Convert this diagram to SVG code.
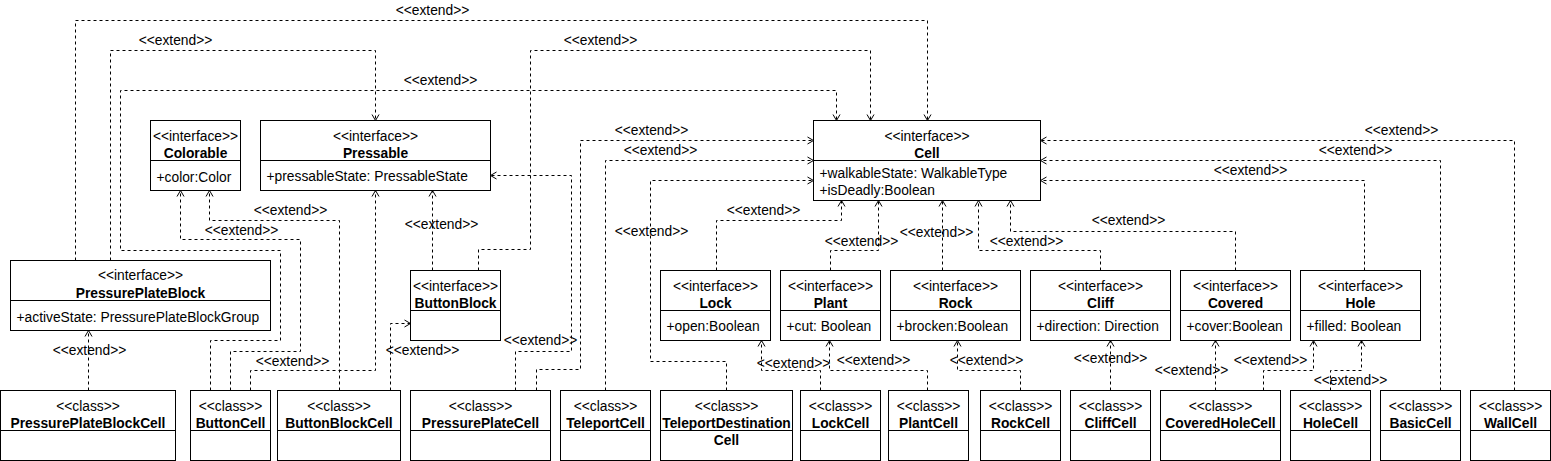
<svg xmlns="http://www.w3.org/2000/svg" width="1551" height="461" viewBox="0 0 1551 461">
<style>
.box{fill:#fff;stroke:#000;stroke-width:1}
.ln{fill:none;stroke:#000;stroke-width:1}
.t{font-family:"Liberation Sans",Arial,Helvetica,sans-serif;font-size:13.8px;fill:#000}
.m{text-anchor:middle}
.b{font-weight:bold}
.e{fill:none;stroke:#000;stroke-width:1;stroke-dasharray:3 3}
</style>
<defs>
<marker id="open" viewBox="-8 -5 9 10" refX="0" refY="0" markerWidth="9" markerHeight="10" markerUnits="userSpaceOnUse" orient="auto">
<path d="M-6,-3.5 L0,0 L-6,3.5" fill="none" stroke="#000" stroke-width="1" stroke-dasharray="none"/>
</marker>
</defs>
<rect width="1551" height="461" fill="#fff"/>
<g transform="translate(0.5,0.5)">
<g id="connectors">
<path class="e" marker-end="url(#open)" d="M75,260 V20 H927 V120"/>
<path class="e" marker-end="url(#open)" d="M110,260 V50 H375 V120"/>
<path class="e" marker-end="url(#open)" d="M210,390 V340 H280 V250 H120 V90 H836 V120"/>
<path class="e" marker-end="url(#open)" d="M478,270 V249 H530 V50 H870 V120"/>
<path class="e" marker-end="url(#open)" d="M536,390 V369 H580 V140 H813"/>
<path class="e" marker-end="url(#open)" d="M605,390 V160 H813"/>
<path class="e" marker-end="url(#open)" d="M726,390 V361 H650 V180 H813"/>
<path class="e" marker-end="url(#open)" d="M515,390 V351 H571 V175 H490"/>
<path class="e" marker-end="url(#open)" d="M390,390 V323 H410"/>
<path class="e" marker-end="url(#open)" d="M250,390 V370 H375 V190"/>
<path class="e" marker-end="url(#open)" d="M230,390 V351 H300 V239 H180 V190"/>
<path class="e" marker-end="url(#open)" d="M339,390 V220 H209 V190"/>
<path class="e" marker-end="url(#open)" d="M432,270 V190"/>
<path class="e" marker-end="url(#open)" d="M88,390 V330"/>
<path class="e" marker-end="url(#open)" d="M716,270 V220 H841 V200"/>
<path class="e" marker-end="url(#open)" d="M830,270 V250 H878 V200"/>
<path class="e" marker-end="url(#open)" d="M942,270 V200"/>
<path class="e" marker-end="url(#open)" d="M1100,270 V250 H978 V200"/>
<path class="e" marker-end="url(#open)" d="M1235,270 V231 H1010 V200"/>
<path class="e" marker-end="url(#open)" d="M1364,270 V180 H1040"/>
<path class="e" marker-end="url(#open)" d="M1440,390 V160 H1040"/>
<path class="e" marker-end="url(#open)" d="M1514,390 V140 H1040"/>
<path class="e" marker-end="url(#open)" d="M820,390 V370 H761 V340"/>
<path class="e" marker-end="url(#open)" d="M927,390 V370 H829 V340"/>
<path class="e" marker-end="url(#open)" d="M1020,390 V370 H957 V340"/>
<path class="e" marker-end="url(#open)" d="M1110,390 V340"/>
<path class="e" marker-end="url(#open)" d="M1215,390 V340"/>
<path class="e" marker-end="url(#open)" d="M1263,390 V370 H1313 V340"/>
<path class="e" marker-end="url(#open)" d="M1330,390 V370 H1361 V340"/>
<g class="t m">
<text x="432" y="14">&lt;&lt;extend&gt;&gt;</text>
<text x="175" y="44">&lt;&lt;extend&gt;&gt;</text>
<text x="440" y="84">&lt;&lt;extend&gt;&gt;</text>
<text x="600" y="44">&lt;&lt;extend&gt;&gt;</text>
<text x="651" y="134">&lt;&lt;extend&gt;&gt;</text>
<text x="660" y="154">&lt;&lt;extend&gt;&gt;</text>
<text x="651" y="235">&lt;&lt;extend&gt;&gt;</text>
<text x="540" y="344">&lt;&lt;extend&gt;&gt;</text>
<text x="422" y="354">&lt;&lt;extend&gt;&gt;</text>
<text x="292" y="365">&lt;&lt;extend&gt;&gt;</text>
<text x="241" y="234">&lt;&lt;extend&gt;&gt;</text>
<text x="290" y="214">&lt;&lt;extend&gt;&gt;</text>
<text x="441" y="228">&lt;&lt;extend&gt;&gt;</text>
<text x="89" y="354">&lt;&lt;extend&gt;&gt;</text>
<text x="763" y="214">&lt;&lt;extend&gt;&gt;</text>
<text x="861" y="245">&lt;&lt;extend&gt;&gt;</text>
<text x="936" y="236">&lt;&lt;extend&gt;&gt;</text>
<text x="1026" y="245">&lt;&lt;extend&gt;&gt;</text>
<text x="1128" y="224">&lt;&lt;extend&gt;&gt;</text>
<text x="1250" y="174">&lt;&lt;extend&gt;&gt;</text>
<text x="1355" y="154">&lt;&lt;extend&gt;&gt;</text>
<text x="1401" y="134">&lt;&lt;extend&gt;&gt;</text>
<text x="793" y="367">&lt;&lt;extend&gt;&gt;</text>
<text x="873" y="364">&lt;&lt;extend&gt;&gt;</text>
<text x="986" y="364">&lt;&lt;extend&gt;&gt;</text>
<text x="1110" y="362">&lt;&lt;extend&gt;&gt;</text>
<text x="1191" y="374">&lt;&lt;extend&gt;&gt;</text>
<text x="1270" y="364">&lt;&lt;extend&gt;&gt;</text>
<text x="1350" y="384">&lt;&lt;extend&gt;&gt;</text>
</g>
</g>

<g id="Colorable">
<rect class="box" x="150" y="120" width="90" height="70"/>
<line class="ln" x1="150" y1="160" x2="240" y2="160"/>
<text class="t m" x="195" y="140">&lt;&lt;interface&gt;&gt;</text>
<text class="t m b" x="195" y="157">Colorable</text>
<text class="t" x="156" y="181">+color:Color</text>
</g>
<g id="Pressable">
<rect class="box" x="260" y="120" width="230" height="70"/>
<line class="ln" x1="260" y1="160" x2="490" y2="160"/>
<text class="t m" x="375" y="140">&lt;&lt;interface&gt;&gt;</text>
<text class="t m b" x="375" y="157">Pressable</text>
<text class="t" x="266" y="180">+pressableState: PressableState</text>
</g>
<g id="Cell">
<rect class="box" x="813" y="120" width="227" height="80"/>
<line class="ln" x1="813" y1="160" x2="1040" y2="160"/>
<text class="t m" x="926.5" y="140">&lt;&lt;interface&gt;&gt;</text>
<text class="t m b" x="926.5" y="157">Cell</text>
<text class="t" x="819" y="177">+walkableState: WalkableType</text>
<text class="t" x="819" y="194">+isDeadly:Boolean</text>
</g>
<g id="PressurePlateBlock">
<rect class="box" x="10" y="260" width="260" height="70"/>
<line class="ln" x1="10" y1="300" x2="270" y2="300"/>
<text class="t m" x="140" y="279">&lt;&lt;interface&gt;&gt;</text>
<text class="t m b" x="140" y="297">PressurePlateBlock</text>
<text class="t" x="16" y="321">+activeState: PressurePlateBlockGroup</text>
</g>
<g id="ButtonBlock">
<rect class="box" x="410" y="270" width="90" height="70"/>
<line class="ln" x1="410" y1="310" x2="500" y2="310"/>
<text class="t m" x="455" y="290">&lt;&lt;interface&gt;&gt;</text>
<text class="t m b" x="455" y="307">ButtonBlock</text>
</g>
<g id="Lock">
<rect class="box" x="660" y="270" width="110" height="70"/>
<line class="ln" x1="660" y1="310" x2="770" y2="310"/>
<text class="t m" x="715" y="290">&lt;&lt;interface&gt;&gt;</text>
<text class="t m b" x="715" y="307">Lock</text>
<text class="t" x="666" y="330">+open:Boolean</text>
</g>
<g id="Plant">
<rect class="box" x="780" y="270" width="100" height="70"/>
<line class="ln" x1="780" y1="310" x2="880" y2="310"/>
<text class="t m" x="830" y="290">&lt;&lt;interface&gt;&gt;</text>
<text class="t m b" x="830" y="307">Plant</text>
<text class="t" x="786" y="330">+cut: Boolean</text>
</g>
<g id="Rock">
<rect class="box" x="890" y="270" width="130" height="70"/>
<line class="ln" x1="890" y1="310" x2="1020" y2="310"/>
<text class="t m" x="955" y="290">&lt;&lt;interface&gt;&gt;</text>
<text class="t m b" x="955" y="307">Rock</text>
<text class="t" x="896" y="330">+brocken:Boolean</text>
</g>
<g id="Cliff">
<rect class="box" x="1030" y="270" width="140" height="70"/>
<line class="ln" x1="1030" y1="310" x2="1170" y2="310"/>
<text class="t m" x="1100" y="290">&lt;&lt;interface&gt;&gt;</text>
<text class="t m b" x="1100" y="307">Cliff</text>
<text class="t" x="1036" y="330">+direction: Direction</text>
</g>
<g id="Covered">
<rect class="box" x="1180" y="270" width="110" height="70"/>
<line class="ln" x1="1180" y1="310" x2="1290" y2="310"/>
<text class="t m" x="1235" y="290">&lt;&lt;interface&gt;&gt;</text>
<text class="t m b" x="1235" y="307">Covered</text>
<text class="t" x="1186" y="330">+cover:Boolean</text>
</g>
<g id="Hole">
<rect class="box" x="1300" y="270" width="120" height="70"/>
<line class="ln" x1="1300" y1="310" x2="1420" y2="310"/>
<text class="t m" x="1360" y="290">&lt;&lt;interface&gt;&gt;</text>
<text class="t m b" x="1360" y="307">Hole</text>
<text class="t" x="1306" y="330">+filled: Boolean</text>
</g>

<g id="PressurePlateBlockCell">
<rect class="box" x="0" y="390" width="175" height="70"/>
<line class="ln" x1="0" y1="430" x2="175" y2="430"/>
<text class="t m" x="87.5" y="410">&lt;&lt;class&gt;&gt;</text>
<text class="t m b" x="87.5" y="427">PressurePlateBlockCell</text>
</g>
<g id="ButtonCell">
<rect class="box" x="190" y="390" width="80" height="70"/>
<line class="ln" x1="190" y1="430" x2="270" y2="430"/>
<text class="t m" x="230" y="410">&lt;&lt;class&gt;&gt;</text>
<text class="t m b" x="230" y="427">ButtonCell</text>
</g>
<g id="ButtonBlockCell">
<rect class="box" x="277" y="390" width="123" height="70"/>
<line class="ln" x1="277" y1="430" x2="400" y2="430"/>
<text class="t m" x="338.5" y="410">&lt;&lt;class&gt;&gt;</text>
<text class="t m b" x="338.5" y="427">ButtonBlockCell</text>
</g>
<g id="PressurePlateCell">
<rect class="box" x="410" y="390" width="140" height="70"/>
<line class="ln" x1="410" y1="430" x2="550" y2="430"/>
<text class="t m" x="480" y="410">&lt;&lt;class&gt;&gt;</text>
<text class="t m b" x="480" y="427">PressurePlateCell</text>
</g>
<g id="TeleportCell">
<rect class="box" x="560" y="390" width="90" height="70"/>
<line class="ln" x1="560" y1="430" x2="650" y2="430"/>
<text class="t m" x="605" y="410">&lt;&lt;class&gt;&gt;</text>
<text class="t m b" x="605" y="427">TeleportCell</text>
</g>
<g id="TeleportDestinationCell">
<rect class="box" x="660" y="390" width="132" height="70"/>
<line class="ln" x1="660" y1="430" x2="792" y2="430"/>
<text class="t m" x="726" y="410">&lt;&lt;class&gt;&gt;</text>
<text class="t m b" x="726" y="427">TeleportDestination</text>
<text class="t m b" x="726" y="444">Cell</text>
</g>
<g id="LockCell">
<rect class="box" x="800" y="390" width="80" height="70"/>
<line class="ln" x1="800" y1="430" x2="880" y2="430"/>
<text class="t m" x="840" y="410">&lt;&lt;class&gt;&gt;</text>
<text class="t m b" x="840" y="427">LockCell</text>
</g>
<g id="PlantCell">
<rect class="box" x="888" y="390" width="80" height="70"/>
<line class="ln" x1="888" y1="430" x2="968" y2="430"/>
<text class="t m" x="928" y="410">&lt;&lt;class&gt;&gt;</text>
<text class="t m b" x="928" y="427">PlantCell</text>
</g>
<g id="RockCell">
<rect class="box" x="980" y="390" width="80" height="70"/>
<line class="ln" x1="980" y1="430" x2="1060" y2="430"/>
<text class="t m" x="1020" y="410">&lt;&lt;class&gt;&gt;</text>
<text class="t m b" x="1020" y="427">RockCell</text>
</g>
<g id="CliffCell">
<rect class="box" x="1070" y="390" width="80" height="70"/>
<line class="ln" x1="1070" y1="430" x2="1150" y2="430"/>
<text class="t m" x="1110" y="410">&lt;&lt;class&gt;&gt;</text>
<text class="t m b" x="1110" y="427">CliffCell</text>
</g>
<g id="CoveredHoleCell">
<rect class="box" x="1160" y="390" width="120" height="70"/>
<line class="ln" x1="1160" y1="430" x2="1280" y2="430"/>
<text class="t m" x="1220" y="410">&lt;&lt;class&gt;&gt;</text>
<text class="t m b" x="1220" y="427">CoveredHoleCell</text>
</g>
<g id="HoleCell">
<rect class="box" x="1290" y="390" width="80" height="70"/>
<line class="ln" x1="1290" y1="430" x2="1370" y2="430"/>
<text class="t m" x="1330" y="410">&lt;&lt;class&gt;&gt;</text>
<text class="t m b" x="1330" y="427">HoleCell</text>
</g>
<g id="BasicCell">
<rect class="box" x="1380" y="390" width="80" height="70"/>
<line class="ln" x1="1380" y1="430" x2="1460" y2="430"/>
<text class="t m" x="1420" y="410">&lt;&lt;class&gt;&gt;</text>
<text class="t m b" x="1420" y="427">BasicCell</text>
</g>
<g id="WallCell">
<rect class="box" x="1470" y="390" width="80" height="70"/>
<line class="ln" x1="1470" y1="430" x2="1550" y2="430"/>
<text class="t m" x="1510" y="410">&lt;&lt;class&gt;&gt;</text>
<text class="t m b" x="1510" y="427">WallCell</text>
</g>
</g>
</svg>
